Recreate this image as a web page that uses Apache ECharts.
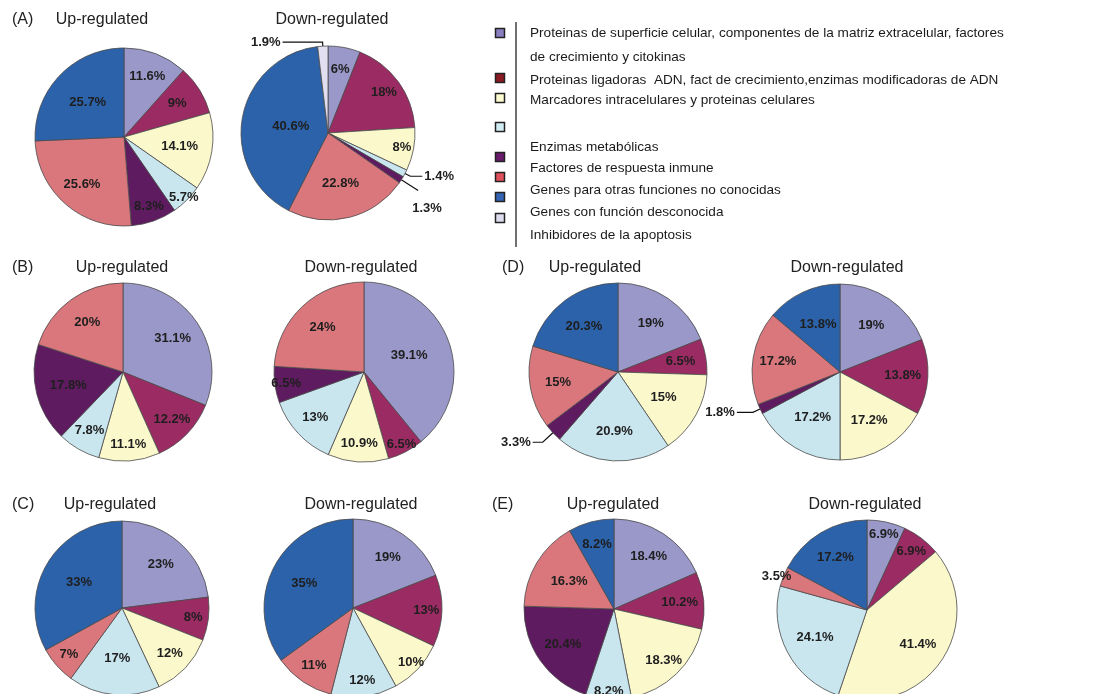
<!DOCTYPE html>
<html><head><meta charset="utf-8">
<script src="https://cdn.jsdelivr.net/npm/echarts@6/dist/echarts.min.js"></script>
<style>html,body{margin:0;padding:0;background:#fff}#c{width:1100px;height:694px}</style>
</head><body><div id="c"></div>
<script>
// ---------- DATA ----------
const categories = [
  "Proteinas de superficie celular, componentes de la matriz extracelular, factores de crecimiento y citokinas",
  "Proteinas ligadoras  ADN, fact de crecimiento,enzimas modificadoras de ADN",
  "Marcadores intracelulares y proteinas celulares",
  "Enzimas metabólicas",
  "Factores de respuesta inmune",
  "Genes para otras funciones no conocidas",
  "Genes con función desconocida",
  "Inhibidores de la apoptosis"
];
const panelLabels = ["(A)", "(B)", "(C)", "(D)", "(E)"];
const groupTitles = ["Up-regulated", "Down-regulated"];
// values (%) in category order (null = category absent)
const A_up   = [11.6, 9, 14.1, 5.7, 8.3, 25.6, 25.7, null];
const A_down = [6, 18, 8, 1.4, 1.3, 22.8, 40.6, 1.9];
const B_up   = [31.1, 12.2, 11.1, 7.8, 17.8, 20, null, null];
const B_down = [39.1, 6.5, 10.9, 13, 6.5, 24, null, null];
const C_up   = [23, 8, 12, 17, null, 7, 33, null];
const C_down = [19, 13, 10, 12, null, 11, 35, null];
const D_up   = [19, 6.5, 15, 20.9, 3.3, 15, 20.3, null];
const D_down = [19, 13.8, 17.2, 17.2, 1.8, 17.2, 13.8, null];
const E_up   = [18.4, 10.2, 18.3, 8.2, 20.4, 16.3, 8.2, null];
const E_down = [6.9, 6.9, 41.4, 24.1, null, 3.5, 17.2, null];

// ---------- STYLE / LAYOUT ----------
const sliceColors = ['#9a98c8', '#9b2c63', '#fbf8cc', '#c9e6ef', '#5e1b5f', '#d9777c', '#2c62a9', '#e2e0f0'];
const legendColors = ['#8a7fc0', '#8b1a22', '#fdfbd0', '#d0eef3', '#6a1b6e', '#e0505c', '#3563b3', '#dcdcee'];

// label radial position (fraction of radius) per category, style only
const pies = [
  { data: A_up,   center: [124, 137], r: 89, labelR: [0.7, 0.67, 0.6, 0.92, 0.8, 0.68, 0.53, null] },
  { data: A_down, center: [328, 133], r: 87, labelR: [0.71, 0.76, 0.83, null, null, 0.56, 0.4, null],
    outside: { 3: { length: 6, length2: 12 }, 4: { length: 20, length2: 0, dx: -8, dy: 18 }, 7: { length: 4, length2: 40 } } },
  { data: B_up,   center: [123, 372], r: 89, labelR: [0.64, 0.73, 0.78, 0.72, 0.6, 0.65, null, null] },
  { data: B_down, center: [364, 372], r: 90, labelR: [0.5, 0.87, 0.76, 0.71, 0.84, 0.64, null, null] },
  { data: D_up,   center: [618, 372], r: 89, labelR: [0.62, 0.68, 0.55, 0.63, null, 0.65, 0.61, null],
    outside: { 4: { length: 14, length2: 10 } } },
  { data: D_down, center: [840, 372], r: 88, labelR: [0.6, 0.68, 0.61, 0.57, null, 0.68, 0.56, null],
    outside: { 4: { length: 8, length2: 16 } } },
  { data: C_up,   center: [122, 608], r: 87, labelR: [0.64, 0.79, 0.72, 0.55, null, 0.78, 0.54, null] },
  { data: C_down, center: [353, 608], r: 89, labelR: [0.66, 0.79, 0.86, 0.79, null, 0.75, 0.58, null] },
  { data: E_up,   center: [614, 609], r: 90, labelR: [0.67, 0.7, 0.76, 0.88, 0.66, 0.55, 0.71, null] },
  { data: E_down, center: [867, 610], r: 90, labelR: [0.83, 0.78, 0.65, 0.62, null, null, 0.65, null],
    outside: { 5: { length: 0, length2: 0, hide: true, dx: 10 } } }
];

const titlePos = [
  { p: 0, x: 12, y: 20, up: 102, down: 332 },
  { p: 1, x: 12, y: 268, up: 122, down: 361 },
  { p: 3, x: 502, y: 268, up: 595, down: 847 },
  { p: 2, x: 12, y: 505, up: 110, down: 361 },
  { p: 4, x: 492, y: 505, up: 613, down: 865 }
];

const legendTextY = [45, 80, 100, 147, 168, 190, 212, 235];
const legendIconY = [33, 78, 98, 127, 157, 177, 197, 218];

const series = [];
pies.forEach(function (pc) {
  const items = [];
  pc.data.forEach(function (v, i) { if (v !== null) items.push({ i: i, v: v }); });
  const total = items.reduce(function (s, d) { return s + d.v; }, 0);
  let cum = 0;
  const mids = items.map(function (d) { const m = (cum + d.v / 2) / total; cum += d.v; return m * 2 * Math.PI; });
  series.push({
    type: 'pie', center: pc.center, radius: [0, pc.r], startAngle: 90, clockwise: true,
    silent: true, animation: false, avoidLabelOverlap: false,
    itemStyle: { borderColor: '#4a4a4a', borderWidth: 0.8 },
    label: {
      show: true, position: 'inside', formatter: '{c}%',
      fontFamily: 'Liberation Sans, Arial, sans-serif', fontWeight: 'bold', fontSize: 13, color: '#1e1e1e'
    },
    labelLine: { show: false },
    labelLayout: function (params) {
      const d = items[params.dataIndex];
      const o = pc.outside && pc.outside[d.i];
      if (o) return { hideOverlap: false, dx: o.dx || 0, dy: o.dy || 0 };
      const k = pc.labelR[d.i];
      if (k == null) return { hideOverlap: false };
      const t = mids[params.dataIndex];
      return { hideOverlap: false, dx: (k - 0.5) * pc.r * Math.sin(t), dy: -(k - 0.5) * pc.r * Math.cos(t) };
    },
    data: items.map(function (d) {
      const o = pc.outside && pc.outside[d.i];
      const item = { name: categories[d.i], value: d.v, itemStyle: { color: sliceColors[d.i] } };
      if (o) {
        item.label = { position: 'outside', distanceToLabelLine: 2 };
        item.labelLine = { show: !o.hide, length: o.length, length2: o.length2, lineStyle: { color: '#111', width: 1.2 } };
      }
      return item;
    })
  });
});

const graphic = [];
const tFont = '16px "Liberation Sans", Arial, sans-serif';
titlePos.forEach(function (t) {
  graphic.push({ type: 'text', x: t.x, y: t.y, style: { text: panelLabels[t.p], font: tFont, fill: '#222', textVerticalAlign: 'middle' } });
  graphic.push({ type: 'text', x: t.up, y: t.y, style: { text: groupTitles[0], font: tFont, fill: '#222', textAlign: 'center', textVerticalAlign: 'middle' } });
  graphic.push({ type: 'text', x: t.down, y: t.y, style: { text: groupTitles[1], font: tFont, fill: '#222', textAlign: 'center', textVerticalAlign: 'middle' } });
});
// legend
graphic.push({ type: 'line', shape: { x1: 516, y1: 22, x2: 516, y2: 247 }, style: { stroke: '#111', lineWidth: 1.2 } });
const lFont = '13.6px "Liberation Sans Narrow", "Arial Narrow", sans-serif';
categories.forEach(function (c, i) {
  const txt = i === 0 ? c.replace(' de crecimiento', '\nde crecimiento') : c;
  graphic.push({ type: 'rect', shape: { x: 500 - 4.5, y: legendIconY[i] - 4.5, width: 9, height: 9 },
    style: { fill: legendColors[i], stroke: '#222', lineWidth: 1.5 } });
  graphic.push({ type: 'text', x: 530, y: legendTextY[i], style: { text: txt, font: lFont, fill: '#1a1a1a', textVerticalAlign: 'middle', lineHeight: 24 } });
});

const chart = echarts.init(document.getElementById('c'), null, { renderer: 'canvas' });
chart.setOption({ animation: false, backgroundColor: '#fff', series: series, graphic: graphic });
</script>
</body></html>
